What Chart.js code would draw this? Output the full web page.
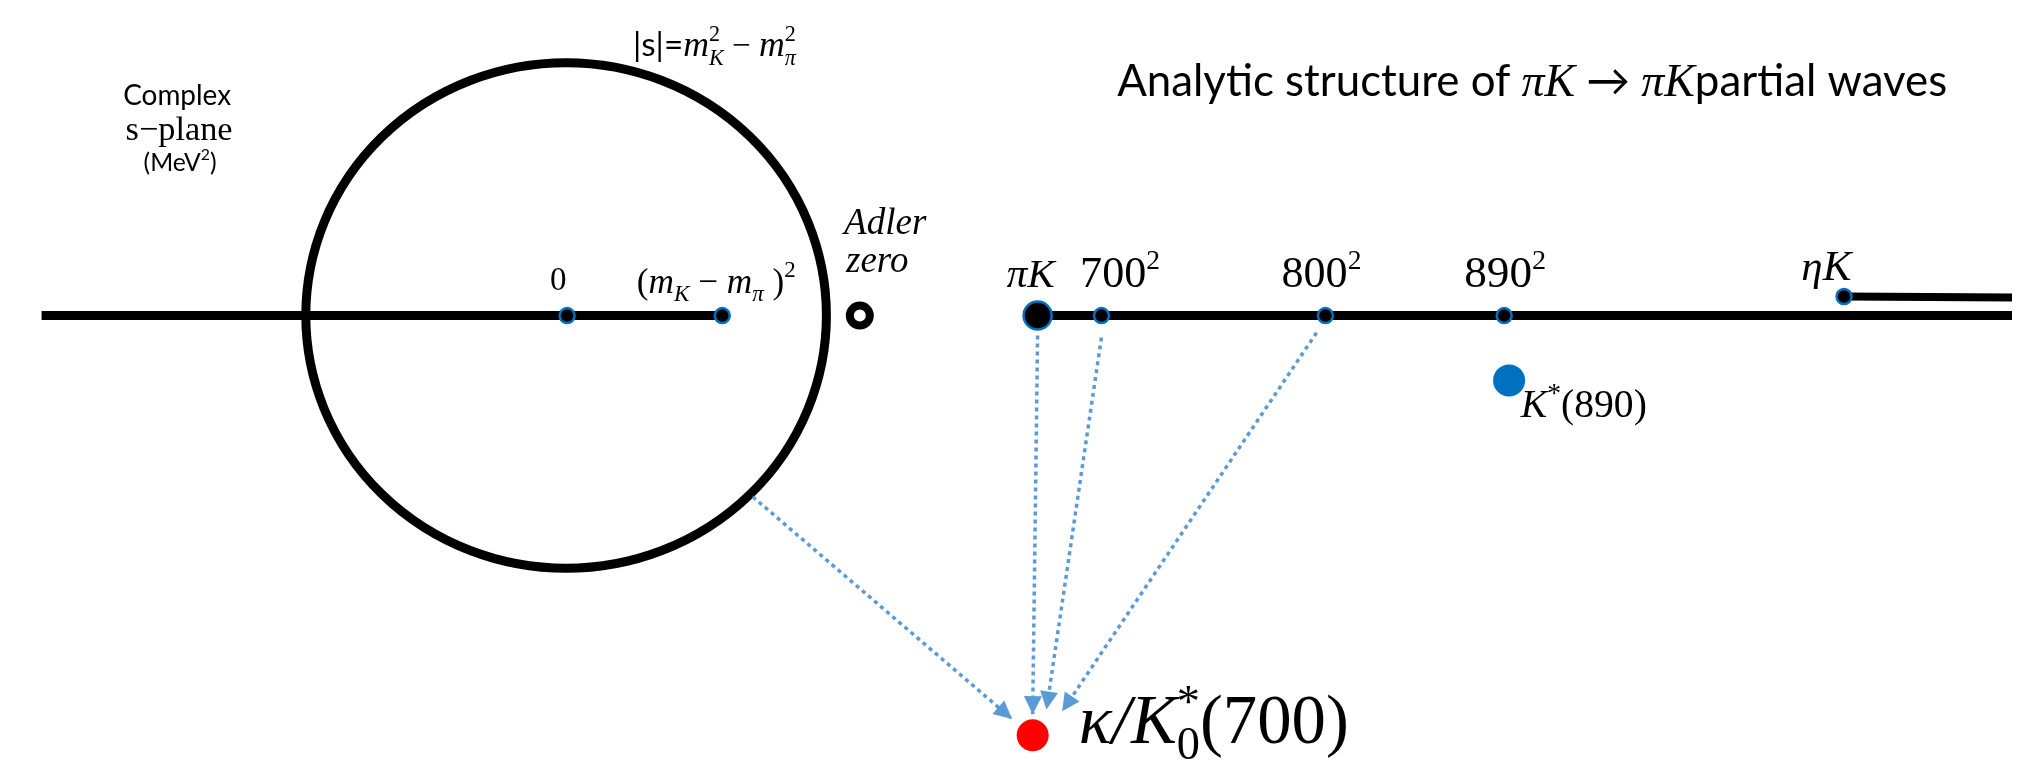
<!DOCTYPE html>
<html><head><meta charset="utf-8">
<script src="https://cdn.jsdelivr.net/npm/chart.js@4"></script>
<style>html,body{margin:0;padding:0;background:#fff;overflow:hidden}#wrap{width:2030px;height:778px;position:relative}</style>
</head><body><div id="wrap"><canvas id="c"></canvas></div>
<script>
// Diagram units (schematic, not to scale): x ~ Re s measured from s = 0, y ~ Im s
const pointLabels = ['0', '(mK−mπ)²', 'πK', '700²', '800²', '890²', 'ηK'];
const pointX = [1, 159, 480, 545, 773, 955, 1301];
const pointY = [0, 0, 0, 0, 0, 0, 20];
const leftCutX = [-534, 159];
const leftCutY = [0, 0];
const rightCutX = [480, 1472];
const rightCutY = [0, 0];
const etaCutX = [1301, 1472];
const etaCutY = [20, 19];
const circleRadius = 265;
const adlerX = [299], adlerY = [0];
const kstarX = [960], kstarY = [-68];
const kappaX = [475], kappaY = [-440];
const arrowFromX = [190, 480, 545, 764];
const arrowFromY = [-190, -21, -23, -18];
const arrowToX = [454, 475, 489, 505];
const arrowToY = [-423, -418, -413, -415];
const axisRangeX = [-558, 1472];
const axisRangeY = [-466, 312];

const BLUE = '#0070C0', ARROW = '#5B9BD5';
const SANS = 'Lato, "Open Sans", sans-serif';
const SERIF = '"Liberation Serif", "DejaVu Serif", serif';

function pts(xs, ys) { return xs.map((x, i) => ({x, y: ys[i]})); }

const datasets = [];
datasets.push({label: 'points', data: pts(pointX, pointY), order: 1,
  pointRadius: pointLabels.map(l => l === 'πK' ? 14 : 7.5),
  pointBackgroundColor: '#000', pointBorderColor: BLUE, pointBorderWidth: 2.5, showLine: false});
datasets.push({label: 'Adler zero', data: pts(adlerX, adlerY), order: 1,
  pointRadius: 10, pointBackgroundColor: '#fff', pointBorderColor: '#000', pointBorderWidth: 8, showLine: false});
datasets.push({label: 'K*(890)', data: pts(kstarX, kstarY), order: 1,
  pointRadius: 16, pointBackgroundColor: BLUE, pointBorderWidth: 0, showLine: false});
datasets.push({label: 'kappa', data: pts(kappaX, kappaY), order: 1,
  pointRadius: 16, pointBackgroundColor: '#FF0000', pointBorderWidth: 0, showLine: false});
[[leftCutX, leftCutY, 9], [rightCutX, rightCutY, 9], [etaCutX, etaCutY, 8]].forEach(([xs, ys, w], i) => {
  datasets.push({label: 'cut' + i, data: pts(xs, ys), order: 5, showLine: true, borderColor: '#000',
    borderWidth: w, pointRadius: 0, borderCapStyle: 'butt', tension: 0});
});
arrowFromX.forEach((x, i) => {
  datasets.push({label: 'arrow' + i, data: [{x, y: arrowFromY[i]}, {x: arrowToX[i], y: arrowToY[i]}],
    order: 4, showLine: true, borderColor: ARROW, borderWidth: 3.5, borderDash: [4, 4],
    pointRadius: 0, arrow: true});
});

const circlePlugin = {
  id: 'circle',
  beforeDatasetsDraw(chart) {
    const {ctx, scales: {x, y}} = chart;
    const cx = x.getPixelForValue(0), cy = y.getPixelForValue(0);
    const rx = x.getPixelForValue(circleRadius) - cx;
    const ry = cy - y.getPixelForValue(circleRadius);
    ctx.save();
    ctx.beginPath(); ctx.ellipse(cx, cy, rx, ry, 0, 0, Math.PI * 2);
    ctx.lineWidth = 9; ctx.strokeStyle = '#000'; ctx.stroke();
    ctx.restore();
  }
};

const arrowPlugin = {
  id: 'arrowheads',
  afterDatasetsDraw(chart) {
    const {ctx} = chart;
    chart.data.datasets.forEach((ds, i) => {
      if (!ds.arrow) return;
      const meta = chart.getDatasetMeta(i);
      const a = meta.data[0], b = meta.data[1];
      const ang = Math.atan2(b.y - a.y, b.x - a.x);
      const L = 18, W = 9;
      ctx.save();
      ctx.translate(b.x, b.y); ctx.rotate(ang);
      ctx.beginPath(); ctx.moveTo(0, 0); ctx.lineTo(-L, -W); ctx.lineTo(-L, W); ctx.closePath();
      ctx.fillStyle = ARROW; ctx.fill();
      ctx.restore();
    });
  }
};

// rich text: runs {t, size, style, fam, dy, noAdv}; optional fitW scales the whole label to a width
function R(t, size, fam, style, dy, noAdv) { return {t, size, fam, style: style || '', dy: dy || 0, noAdv: !!noAdv}; }
const labels = [
  {x: -396, y: 221, align: 'center', fitW: 108, runs: [R('Complex', 29, SANS)]},
  {x: -394, y: 184, align: 'center', fitW: 107, runs: [R('s−plane', 31, SERIF)]},
  {x: -393, y: 152, align: 'center', fitW: 73, runs: [R('(MeV', 22, SANS), R('2', 14, SANS, '', -9), R(')', 22, SANS)]},
  {x: 68, y: 272, align: 'left', fitW: 163, runs: [R('|s|=', 27, SANS), R('m', 29, SERIF, 'italic'),
    R('2', 18, SERIF, '', -12, true), R('K', 18, SERIF, 'italic', 7), R(' − ', 27, SERIF),
    R('m', 29, SERIF, 'italic'), R('2', 18, SERIF, '', -12, true), R('π', 18, SERIF, 'italic', 7)]},
  {x: -8, y: 27, align: 'center', runs: [R('0', 33, SERIF)]},
  {x: 72, y: 24, align: 'left', fitW: 159, runs: [R('(', 29, SERIF), R('m', 29, SERIF, 'italic'), R('K', 19, SERIF, 'italic', 7),
    R(' − ', 29, SERIF), R('m', 29, SERIF, 'italic'), R('π', 19, SERIF, 'italic', 7), R(' )', 29, SERIF), R('2', 19, SERIF, '', -13)]},
  {x: 283, y: 86, align: 'left', runs: [R('Adler', 37, SERIF, 'italic')]},
  {x: 285, y: 46, align: 'left', runs: [R('zero', 37, SERIF, 'italic')]},
  {x: 473, y: 30, align: 'center', fitW: 48, runs: [R('πK', 34, SERIF, 'italic')]},
  {x: 564, y: 30, align: 'center', fitW: 80, runs: [R('700', 32, SERIF), R('2', 20, SERIF, '', -13)]},
  {x: 769, y: 30, align: 'center', fitW: 80, runs: [R('800', 32, SERIF), R('2', 20, SERIF, '', -13)]},
  {x: 956, y: 30, align: 'center', fitW: 82, runs: [R('890', 32, SERIF), R('2', 20, SERIF, '', -13)]},
  {x: 1283, y: 37, align: 'center', fitW: 50, runs: [R('ηK', 32, SERIF, 'italic')]},
  {x: 972, y: -106, align: 'left', fitW: 126, runs: [R('K', 30, SERIF, 'italic'), R('*', 21, SERIF, '', -11), R('(890)', 30, SERIF)]},
  {x: 522, y: -448, align: 'left', fitW: 270, runs: [R('κ/K', 46, SERIF, 'italic'), R('*', 31, SERIF, '', -17, true),
    R('0', 31, SERIF, '', 11), R('(700)', 46, SERIF)]},
  {x: 561, y: 230, align: 'left', fitW: 830, runs: [R('Analytic structure of ', 44, SANS), R('πK', 46, SERIF, 'italic'),
    R(' → ', 44, SANS), R('πK', 46, SERIF, 'italic'), R('partial waves', 44, SANS)]}
];

const textPlugin = {
  id: 'richText',
  afterDraw(chart) {
    const {ctx, scales: {x, y}} = chart;
    const fontOf = (r, k) => (r.style ? r.style + ' ' : '') + (r.size * k).toFixed(2) + 'px ' + r.fam;
    let lbRuns;
    const widthOf = k => {
      let w = 0;
      lbRuns.forEach(r => { ctx.font = fontOf(r, k); r.w = ctx.measureText(r.t).width; if (!r.noAdv) w += r.w; });
      return w;
    };
    ctx.save();
    ctx.fillStyle = '#000'; ctx.textBaseline = 'alphabetic'; ctx.textAlign = 'left';
    labels.forEach(lb => {
      lbRuns = lb.runs;
      let k = 1, w = widthOf(1);
      if (lb.fitW) { k = lb.fitW / w; w = widthOf(k); }
      let px = x.getPixelForValue(lb.x), py = y.getPixelForValue(lb.y);
      if (lb.align === 'center') px -= w / 2; else if (lb.align === 'right') px -= w;
      lb.runs.forEach(r => { ctx.font = fontOf(r, k); ctx.fillText(r.t, px, py + r.dy * k); if (!r.noAdv) px += r.w; });
    });
    ctx.restore();
  }
};

new Chart(document.getElementById('c'), {
  type: 'scatter',
  data: {datasets},
  options: {
    responsive: true, maintainAspectRatio: false, animation: false,
    layout: {padding: 0},
    plugins: {legend: {display: false}, tooltip: {enabled: false}, title: {display: false}},
    scales: {
      x: {type: 'linear', min: axisRangeX[0], max: axisRangeX[1], display: false},
      y: {type: 'linear', min: axisRangeY[0], max: axisRangeY[1], display: false}
    },
    elements: {line: {tension: 0}}
  },
  plugins: [circlePlugin, arrowPlugin, textPlugin]
});
</script></body></html>
